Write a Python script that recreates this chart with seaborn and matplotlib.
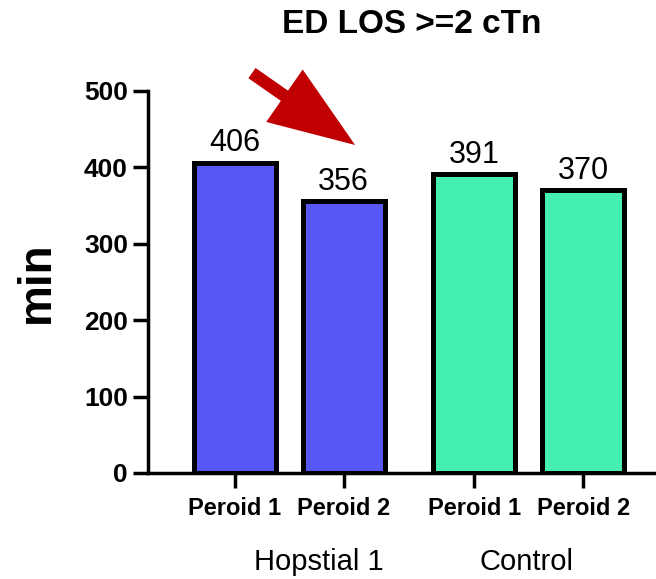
import matplotlib
matplotlib.use("Agg")
import matplotlib.pyplot as plt
import seaborn as sns
import pandas as pd

# Median ED length of stay (minutes) for patients with >=2 troponin tests
group_names = ["Hopstial 1", "Control"]
period_names = ["Peroid 1", "Peroid 2"]
bar_group = ["Hopstial 1", "Hopstial 1", "Control", "Control"]
bar_period = ["Peroid 1", "Peroid 2", "Peroid 1", "Peroid 2"]
los_minutes = [406, 356, 391, 370]
y_ticks = [0, 100, 200, 300, 400, 500]

group_colors = {"Hopstial 1": "#5757F5", "Control": "#44EFB0"}
group_step = 2.2  # spacing between the first bars of consecutive groups

df = pd.DataFrame({"group": bar_group, "period": bar_period, "los": los_minutes})
df["pos"] = [group_names.index(g) * group_step + period_names.index(p)
             for g, p in zip(df["group"], df["period"])]

sns.set_style("ticks")
plt.rcParams["font.family"] = ["Liberation Sans", "DejaVu Sans"]
plt.rcParams["text.color"] = "black"
plt.rcParams["axes.labelcolor"] = "black"
plt.rcParams["xtick.color"] = "black"
plt.rcParams["ytick.color"] = "black"

fig = plt.figure(figsize=(6.56, 5.79), dpi=100)
ax = fig.add_axes([148 / 656, 106 / 579, 508 / 656, 382.3 / 579])

sns.barplot(data=df, x="pos", y="los", hue="group", palette=group_colors,
            native_scale=True, width=0.752, edgecolor="black", linewidth=3.6,
            legend=False, errorbar=None, saturation=1, ax=ax)

for container in ax.containers:
    ax.bar_label(container, fmt="%d", padding=3, fontsize=22, color="black")

ax.set_xlim(-0.794, 3.867)
ax.set_ylim(0, 500)
ax.set_yticks(y_ticks)
ax.set_yticklabels([str(t) for t in y_ticks], fontsize=19, fontweight="bold")
ax.set_xticks(df["pos"])
ax.set_xticklabels(df["period"], fontsize=17, fontweight="bold")
ax.set_xlabel("")
ax.set_ylabel("min", fontsize=33, fontweight="bold")
ax.yaxis.set_label_coords(-0.175, 0.5)

for side in ("top", "right"):
    ax.spines[side].set_visible(False)
for side in ("left", "bottom"):
    ax.spines[side].set_linewidth(2.5)
    ax.spines[side].set_color("black")
ax.tick_params(axis="y", length=11, width=2.5, pad=3.5, colors="black")
ax.tick_params(axis="x", length=11, width=2.5, pad=6, colors="black")

# Group captions under the period labels
trans = ax.get_xaxis_transform()
ax.text(0.775, -0.233, group_names[0], transform=trans, ha="center",
        va="center", fontsize=21, color="black")
ax.text(2.68, -0.233, group_names[1], transform=trans, ha="center",
        va="center", fontsize=21, color="black")

fig.text(412 / 656, 1 - 33 / 579, "ED LOS >=2 cTn", ha="center",
         va="baseline", fontsize=24, fontweight="bold", color="black")

# Red arrow highlighting the drop in Hopstial 1
ax.annotate("", xy=(1.106, 429), xytext=(0.16, 523), xycoords="data",
            annotation_clip=False,
            arrowprops=dict(arrowstyle="simple,head_length=6.2,head_width=4.6,tail_width=0.9",
                            mutation_scale=10, color="#C00000", shrinkA=0, shrinkB=0,
                            linewidth=0))

fig.savefig("out.png", dpi=100)
